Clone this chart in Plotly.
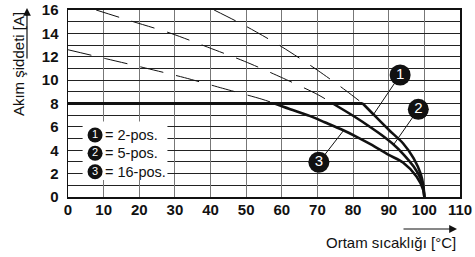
import plotly.graph_objects as go

# ---- data ----
temp_ticks = [0, 10, 20, 30, 40, 50, 60, 70, 80, 90, 100, 110]
current_ticks = [0, 2, 4, 6, 8, 10, 12, 14, 16]

# curve 1 = 2-pos.
c1_dash_T = [41.0, 50.0, 60.0, 70.0, 78.0, 82.7]
c1_dash_I = [16.0, 14.6, 12.85, 10.85, 9.1, 8.0]
c1_solid_T = [82.7, 85.6, 90.0, 94.0, 97.0, 99.0, 99.7, 100.0]
c1_solid_I = [8.0, 7.1, 5.75, 4.6, 3.3, 1.95, 1.0, 0.0]

# curve 2 = 5-pos.
c2_dash_T = [7.9, 18.0, 28.8, 39.2, 49.6, 59.9, 70.1, 74.3]
c2_dash_I = [16.0, 15.03, 14.01, 12.82, 11.6, 10.23, 8.76, 8.0]
c2_solid_T = [74.3, 80.0, 85.0, 88.0, 91.5, 94.0, 97.0, 99.0, 99.7, 100.0]
c2_solid_I = [8.0, 6.95, 5.95, 5.3, 4.45, 3.7, 2.6, 1.55, 0.8, 0.0]

# curve 3 = 16-pos.
c3_dash_T = [0.0, 10.7, 21.8, 32.7, 43.4, 54.4, 58.0]
c3_dash_I = [12.6, 11.83, 11.03, 10.21, 9.3, 8.37, 8.0]
c3_solid_T = [58.0, 62.0, 67.8, 72.0, 77.1, 81.0, 85.0, 90.0, 94.0, 97.8, 99.7, 100.0]
c3_solid_I = [8.0, 7.55, 6.94, 6.4, 5.73, 5.15, 4.5, 3.6, 2.95, 1.75, 0.6, 0.0]

# 8 A limit line
limit_T = [0, 82.7]
limit_I = [8, 8]

legend_labels = ["= 2-pos.", "= 5-pos.", "= 16-pos."]
marker_digits = ["1", "2", "3"]

FONT = "Liberation Sans, Arial, sans-serif"
fig = go.Figure()

dash_style = dict(color="#111", width=1, dash="24px,13px", shape="spline", smoothing=0.8)
solid_style = dict(color="#111", width=2.6, shape="spline", smoothing=0.8)

for dT, dI, sT, sI in [(c1_dash_T, c1_dash_I, c1_solid_T, c1_solid_I),
                       (c2_dash_T, c2_dash_I, c2_solid_T, c2_solid_I),
                       (c3_dash_T, c3_dash_I, c3_solid_T, c3_solid_I)]:
    fig.add_trace(go.Scatter(x=dT, y=dI, mode="lines", line=dash_style, hoverinfo="skip"))
    fig.add_trace(go.Scatter(x=sT, y=sI, mode="lines", line=solid_style, hoverinfo="skip"))

fig.add_trace(go.Scatter(x=limit_T, y=limit_I, mode="lines",
                         line=dict(color="#111", width=3), hoverinfo="skip"))

# leader lines: (circle centre) -> (point on curve)
label_pos = [(93.2, 10.44), (98.3, 7.5), (70.4, 2.97)]
leader_end = [(85.7, 7.05), (91.3, 4.45), (77.4, 5.72)]
for (lx, ly), (ex, ey) in zip(label_pos, leader_end):
    fig.add_trace(go.Scatter(x=[lx, ex], y=[ly, ey], mode="lines",
                             line=dict(color="#111", width=1), hoverinfo="skip"))

fig.add_trace(go.Scatter(
    x=[p[0] for p in label_pos], y=[p[1] for p in label_pos],
    mode="markers+text", text=marker_digits, textposition="middle center",
    textfont=dict(color="white", size=15, family=FONT),
    marker=dict(size=21, color="#111", line=dict(width=0)), hoverinfo="skip"))

# legend box (white) and entries
fig.add_shape(type="rect", xref="x", yref="y", x0=4.1, x1=27.9, y0=1.45, y1=6.45,
              fillcolor="white", line=dict(width=0), layer="between")
leg_x = 7.6
leg_y = [5.3, 3.74, 2.16]
fig.add_trace(go.Scatter(
    x=[leg_x] * 3, y=leg_y, mode="markers+text", text=marker_digits,
    textposition="middle center", textfont=dict(color="white", size=11, family=FONT),
    marker=dict(size=15, color="#111", line=dict(width=0)), hoverinfo="skip"))
for txt, yy in zip(legend_labels, leg_y):
    fig.add_annotation(x=9.7, y=yy, xref="x", yref="y", text=txt, showarrow=False,
                       xanchor="left", yanchor="middle",
                       font=dict(family=FONT, size=14.5, color="#111"))

# axis titles with arrows
fig.add_annotation(xref="paper", yref="paper", x=-0.128, y=0.71, text="Akım şiddeti [A]",
                   textangle=-90, showarrow=False, xanchor="center", yanchor="middle",
                   font=dict(family=FONT, size=15, color="#111"))
fig.add_annotation(xref="paper", yref="paper", x=(27 - 68) / 392, y=(197 - 8) / 187,
                   ax=0, ay=52, text="", showarrow=True, arrowhead=2, arrowsize=1.3,
                   arrowwidth=1.2, arrowcolor="#111")
fig.add_annotation(xref="paper", yref="paper", x=(458 - 68) / 392, y=(197 - 242) / 187,
                   text="Ortam sıcaklığı [°C]", showarrow=False, xanchor="right",
                   yanchor="middle", font=dict(family=FONT, size=15, color="#111"))
fig.add_annotation(xref="paper", yref="paper", x=(457 - 68) / 392, y=(197 - 229) / 187,
                   ax=-55, ay=0, text="", showarrow=True, arrowhead=2, arrowsize=1.3,
                   arrowwidth=1.2, arrowcolor="#111")

fig.update_layout(
    width=475, height=257,
    margin=dict(l=68, r=15, t=10, b=60, autoexpand=False),
    paper_bgcolor="white", plot_bgcolor="white",
    showlegend=False,
    font=dict(family=FONT, color="#111"),
    xaxis=dict(range=[0, 110], tickvals=temp_ticks, ticktext=[str(v) for v in temp_ticks],
               showgrid=True, gridcolor="#777", gridwidth=1, zeroline=False,
               showline=True, linecolor="#111", linewidth=2, mirror=True,
               ticks="", ticklabelstandoff=-2,
               tickfont=dict(family=FONT, size=15, color="#111", weight="bold"),
               automargin=False, fixedrange=True),
    yaxis=dict(range=[0, 16], tickvals=current_ticks, ticktext=[str(v) for v in current_ticks],
               showgrid=True, gridcolor="#222", gridwidth=1, zeroline=False,
               minor=dict(dtick=1, showgrid=True, gridcolor="#222", gridwidth=1),
               showline=True, linecolor="#111", linewidth=1.5, mirror=True,
               ticks="", ticklabelstandoff=5,
               tickfont=dict(family=FONT, size=15, color="#111", weight="bold"),
               automargin=False, fixedrange=True),
)

fig.write_html("out.html", config={"displayModeBar": False, "staticPlot": True},
               post_script="document.body.style.margin='0';document.body.style.padding='0';")
